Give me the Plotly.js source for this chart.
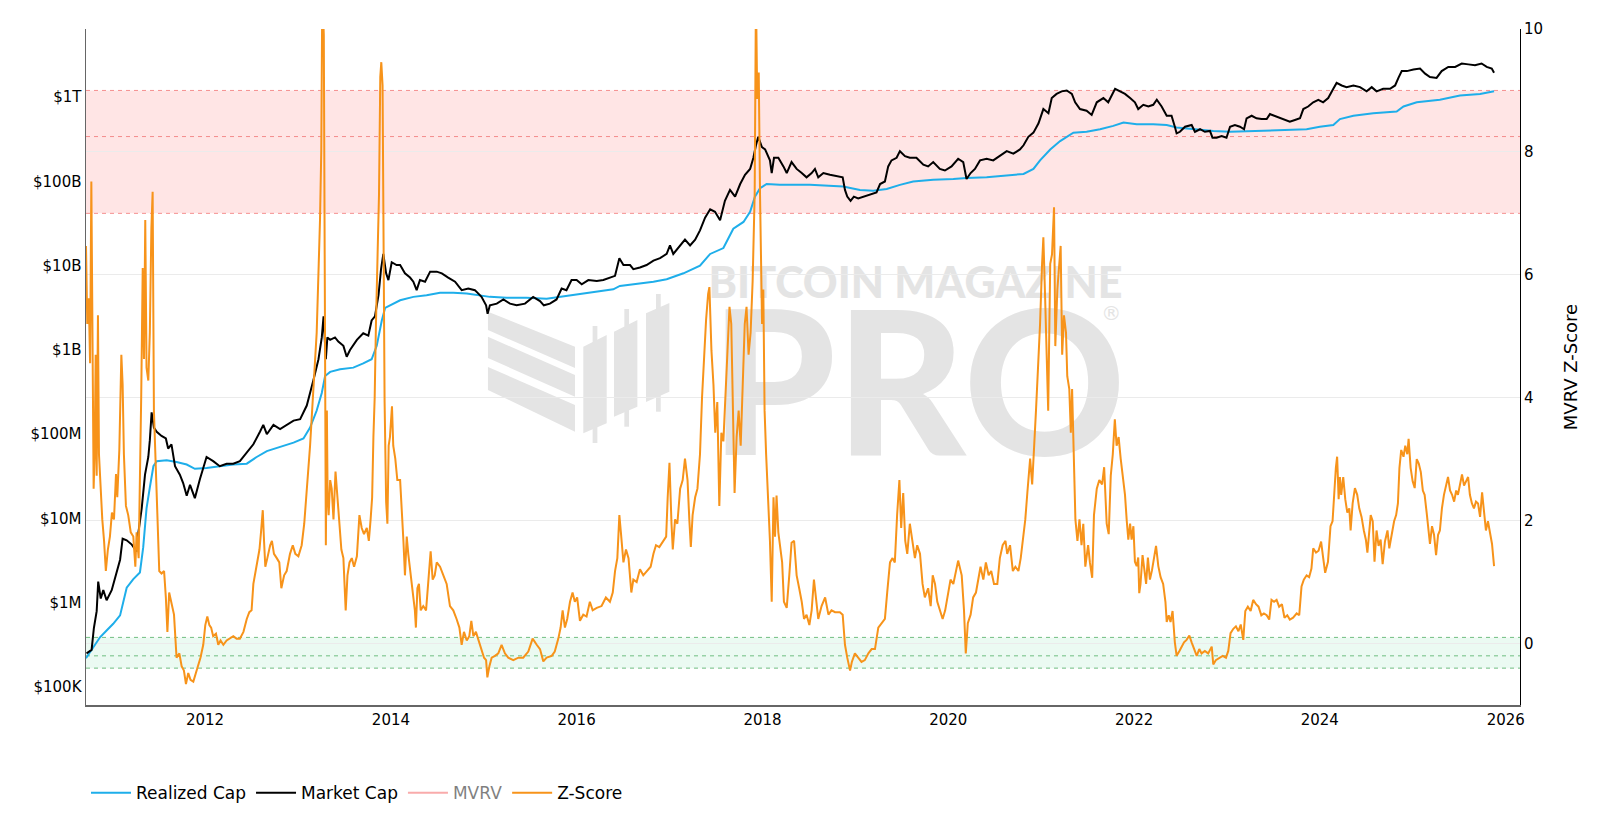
<!DOCTYPE html>
<html>
<head>
<meta charset="utf-8">
<script src="https://cdn.plot.ly/plotly-3.0.1.min.js"></script>
<style>html,body{margin:0;padding:0;background:#fff;}#chart{width:1600px;height:816px;}</style>
</head>
<body>
<div id="chart"></div>
<script>
// ---- DATA (dates as decimal years) ----
const seriesNames = ['Realized Cap', 'Market Cap', 'MVRV', 'Z-Score'];
const yTickVals = [1e5, 1e6, 1e7, 1e8, 1e9, 1e10, 1e11, 1e12];
const yTickText = ['$100K', '$1M', '$10M', '$100M', '$1B', '$10B', '$100B', '$1T'];

// Market Cap, USD billions
const mcT = [2010.726,2010.780,2010.805,2010.834,2010.852,2010.877,2010.906,2010.942,2010.995,2011.049,2011.085,2011.114,2011.157,2011.211,2011.264,2011.282,2011.318,2011.354,2011.390,2011.408,2011.426,2011.451,2011.480,2011.534,2011.580,2011.605,2011.641,2011.677,2011.731,2011.767,2011.803,2011.839,2011.892,2011.946,2012.018,2012.090,2012.161,2012.233,2012.305,2012.377,2012.449,2012.520,2012.592,2012.628,2012.664,2012.736,2012.807,2012.879,2012.951,2013.023,2013.094,2013.166,2013.220,2013.256,2013.274,2013.299,2013.317,2013.346,2013.399,2013.435,2013.489,2013.525,2013.561,2013.633,2013.704,2013.758,2013.794,2013.830,2013.866,2013.894,2013.920,2013.948,2013.973,2014.009,2014.063,
2014.099,2014.153,2014.207,2014.243,2014.278,2014.314,2014.368,2014.422,2014.494,2014.548,2014.619,2014.691,2014.763,2014.835,2014.906,2014.978,2015.025,2015.043,2015.068,2015.140,2015.211,2015.283,2015.355,2015.445,2015.534,2015.606,2015.649,2015.714,2015.785,2015.839,2015.893,2015.947,2016.001,2016.055,2016.126,2016.216,2016.288,2016.359,2016.413,2016.460,2016.503,2016.575,2016.611,2016.682,2016.754,2016.826,2016.898,2016.969,2017.005,2017.041,2017.095,2017.167,2017.221,2017.274,2017.328,2017.382,2017.436,2017.490,2017.543,2017.597,2017.651,2017.705,2017.759,2017.813,2017.866,2017.902,2017.931,2017.956,2017.992,2018.028,2018.082,
2018.100,2018.125,2018.171,2018.225,2018.261,2018.315,2018.369,2018.422,2018.476,2018.530,2018.566,2018.602,2018.656,2018.727,2018.799,2018.864,2018.889,2018.914,2018.950,2018.986,2019.032,2019.086,2019.158,2019.230,2019.266,2019.320,2019.355,2019.391,2019.445,2019.481,2019.535,2019.589,2019.660,2019.732,2019.786,2019.840,2019.912,2019.965,2020.037,2020.109,2020.163,2020.199,2020.242,2020.288,2020.342,2020.414,2020.486,2020.557,2020.629,2020.701,2020.773,2020.809,2020.862,2020.916,2020.970,2021.024,2021.078,2021.114,2021.167,2021.221,2021.275,2021.329,2021.365,2021.418,2021.490,2021.544,2021.598,2021.670,2021.723,2021.795,2021.849,
2021.903,2021.957,2022.010,2022.046,2022.100,2022.154,2022.208,2022.244,2022.297,2022.351,2022.405,2022.441,2022.459,2022.495,2022.549,2022.620,2022.656,2022.710,2022.764,2022.818,2022.846,2022.889,2022.943,2022.997,2023.033,2023.087,2023.141,2023.184,2023.212,2023.266,2023.320,2023.374,2023.428,2023.464,2023.517,2023.571,2023.625,2023.679,2023.733,2023.787,2023.822,2023.876,2023.930,2023.984,2024.038,2024.091,2024.145,2024.181,2024.235,2024.289,2024.361,2024.432,2024.504,2024.558,2024.612,2024.683,2024.755,2024.809,2024.845,2024.881,2024.935,2025.006,2025.078,2025.132,2025.186,2025.257,2025.311,2025.383,2025.455,2025.527,2025.598,2025.670,2025.742,2025.796,2025.850,2025.875];
const mcB = [0.000251,0.000275,0.000501,0.000794,0.00178,0.00112,0.00141,0.00107,0.00141,0.00229,0.00324,0.00575,0.0055,0.0049,0.00407,0.00646,0.0132,0.0331,0.0537,0.0851,0.182,0.120,0.107,0.0955,0.0891,0.0676,0.0759,0.0417,0.0331,0.0263,0.0186,0.0251,0.0174,0.0295,0.0537,0.0479,0.0417,0.0447,0.0447,0.0479,0.0603,0.0759,0.107,0.129,0.100,0.129,0.115,0.129,0.145,0.151,0.219,0.437,0.776,1.41,2.51,0.776,1.41,1.32,1.41,1.26,1.12,0.832,1.00,1.32,1.58,1.48,2.24,2.51,4.47,9.12,13.8,8.13,6.76,11.0,10.2,
10.2,8.13,7.24,6.46,5.13,6.76,6.46,8.51,8.51,8.13,7.24,6.46,5.13,5.37,5.13,4.27,3.39,2.69,3.39,3.55,3.98,3.55,3.39,3.55,4.27,3.80,3.39,3.55,3.98,5.37,5.13,6.76,6.76,6.03,6.76,6.61,6.76,7.24,7.59,12.3,10.2,10.2,9.12,9.55,10.2,11.5,12.3,13.8,17.4,13.8,16.2,20.4,17.4,20.4,26.3,37.2,46.8,43.7,34.7,58.9,79.4,66.1,93.3,120,141,191,269,339,257,240,178,
126,191,191,151,126,170,141,126,112,126,141,112,126,120,117,112,79.4,66.1,58.9,66.1,63.1,66.1,70.8,74.1,93.3,100,151,178,191,229,200,191,191,158,151,170,141,135,151,186,170,107,126,141,178,186,178,200,229,214,240,269,339,380,490,724,646,977,1096,1175,1202,1096,871,724,692,617,871,977,871,1259,1175,
1096,977,871,724,813,776,813,933,776,603,603,447,372,389,447,468,389,417,389,398,331,331,347,331,447,468,447,417,562,603,562,550,550,631,603,575,537,513,537,562,724,776,871,933,871,977,1259,1479,1380,1318,1380,1318,1175,1318,1175,1259,1259,1380,1698,2042,2042,2138,2188,1905,1738,1698,2042,2291,2291,2512,2455,2399,2512,2291,2188,1950];

// Realized Cap, USD billions
const rcT = [2010.719,2010.798,2010.870,2010.942,2011.013,2011.085,2011.157,2011.229,2011.300,2011.336,2011.372,2011.408,2011.444,2011.480,2011.587,2011.695,2011.803,2011.892,2012.018,2012.161,2012.305,2012.449,2012.556,2012.664,2012.807,2012.951,2013.058,2013.130,2013.202,2013.256,2013.292,2013.346,2013.453,2013.597,2013.704,2013.794,2013.848,2013.902,2013.938,2013.991,2014.099,
2014.243,2014.386,2014.530,2014.673,2014.817,2014.960,2015.068,2015.247,2015.462,2015.678,2015.821,2015.965,2016.180,2016.395,2016.467,2016.611,2016.826,2016.969,2017.149,2017.328,2017.436,2017.579,2017.687,2017.795,2017.866,2017.920,2017.974,2018.046,
2018.189,2018.512,2018.692,2018.871,2019.050,2019.194,2019.337,2019.481,2019.624,2019.840,2020.055,2020.199,2020.414,2020.629,2020.809,2020.916,2020.988,2021.096,2021.203,2021.347,2021.490,2021.634,2021.777,2021.885,
2022.028,2022.208,2022.351,2022.459,2022.638,2022.854,2023.033,2023.284,2023.571,2023.858,2024.002,2024.145,2024.217,2024.361,2024.576,2024.827,2024.899,2025.042,2025.293,2025.509,2025.724,2025.875];
const rcB = [0.000219,0.000295,0.000389,0.000468,0.000562,0.000708,0.00151,0.00191,0.00229,0.00457,0.0132,0.0234,0.0417,0.0479,0.0490,0.0468,0.0437,0.0389,0.0398,0.0417,0.0437,0.0447,0.0537,0.0631,0.0708,0.0794,0.0891,0.120,0.191,0.309,0.490,0.550,0.589,0.617,0.692,0.776,1.12,2.24,3.16,3.39,3.89,
4.27,4.47,4.79,4.79,4.68,4.47,4.27,4.17,4.17,4.07,4.27,4.57,4.90,5.25,5.75,6.03,6.46,6.92,8.13,10.0,13.8,16.2,27.5,33.1,43.7,66.1,83.2,93.3,
91.2,91.2,89.1,87.1,79.4,77.6,81.3,91.2,100,105,107,110,112,117,123,141,178,240,302,380,389,417,457,501,
479,479,468,437,417,398,389,398,407,417,447,468,550,603,646,676,776,871,933,1047,1096,1175];

// MVRV (hidden in the reference: legend only), a few readings
const mvrvT = [2010.72, 2011.44, 2011.90, 2012.50, 2013.27, 2013.92, 2015.04, 2016.50, 2017.96, 2018.95, 2021.27, 2022.85, 2024.19, 2025.88];
const mvrvV = [1.15, 4.4, 0.45, 1.1, 5.1, 4.1, 0.65, 1.9, 4.0, 0.75, 3.1, 0.83, 3.2, 1.66];

// MVRV Z-Score
const zT = [2010.719,2010.733,2010.748,2010.762,2010.776,2010.787,2010.802,2010.812,2010.823,2010.834,2010.848,2010.859,2010.877,2010.895,2010.913,2010.934,2010.956,2010.977,2010.999,2011.020,2011.042,2011.056,2011.078,2011.099,2011.114,2011.128,2011.150,2011.175,2011.200,2011.229,2011.250,2011.264,2011.286,2011.300,2011.315,2011.329,2011.343,2011.358,2011.372,2011.390,2011.408,2011.422,2011.437,2011.451,2011.465,2011.487,2011.508,2011.534,2011.559,2011.580,2011.595,2011.616,2011.641,2011.666,2011.695,2011.724,2011.749,2011.774,2011.795,2011.821,2011.846,2011.874,2011.903,2011.928,2011.953,2011.982,2012.004,2012.025,2012.047,2012.068,2012.090,2012.118,2012.144,2012.169,2012.197,2012.233,2012.269,2012.305,2012.341,2012.377,2012.413,2012.449,2012.477,2012.502,2012.520,2012.542,2012.563,2012.585,2012.603,2012.621,2012.635,2012.649,2012.671,2012.700,2012.721,2012.743,2012.771,2012.800,2012.822,2012.850,2012.879,2012.915,2012.944,2012.972,2013.005,2013.041,2013.066,2013.094,2013.130,2013.166,2013.202,2013.224,2013.238,2013.252,2013.263,2013.277,2013.288,2013.299,2013.310,2013.320,2013.331,2013.346,2013.363,2013.381,2013.403,2013.424,2013.446,2013.467,2013.489,2013.503,2013.514,2013.532,2013.554,2013.579,2013.604,2013.633,2013.661,2013.686,2013.711,2013.740,2013.762,2013.783,2013.798,2013.812,2013.826,2013.841,2013.855,2013.873,2013.887,2013.898,2013.912,2013.923,2013.934,2013.948,2013.963,2013.977,2013.991,2014.013,2014.027,2014.049,2014.070,
2014.099,2014.117,2014.135,2014.153,2014.171,2014.189,2014.207,2014.225,2014.243,2014.260,2014.271,2014.286,2014.304,2014.321,2014.350,2014.379,2014.404,2014.429,2014.451,2014.472,2014.494,2014.530,2014.565,2014.601,2014.637,2014.673,2014.709,2014.738,2014.763,2014.788,2014.817,2014.845,2014.867,2014.888,2014.917,2014.946,2014.978,2015.003,2015.025,2015.039,2015.061,2015.086,2015.122,2015.157,2015.193,2015.229,2015.265,2015.319,2015.373,2015.427,2015.480,2015.527,2015.570,2015.606,2015.642,2015.678,2015.732,2015.767,2015.803,2015.828,2015.850,2015.875,2015.900,2015.929,2015.958,2015.983,2016.008,2016.037,2016.072,2016.108,2016.144,2016.173,2016.216,2016.270,2016.316,2016.359,2016.388,2016.413,2016.438,2016.460,2016.478,2016.503,2016.532,2016.560,2016.589,2016.611,2016.647,2016.682,2016.718,2016.761,2016.797,2016.826,2016.855,2016.890,2016.933,2016.962,2016.980,2016.998,2017.020,2017.034,2017.059,2017.084,2017.113,2017.142,2017.167,2017.192,2017.213,2017.228,2017.249,2017.274,2017.299,2017.328,2017.350,2017.371,2017.393,2017.414,2017.429,2017.450,2017.472,2017.493,2017.515,2017.536,2017.558,2017.579,2017.601,2017.622,2017.644,2017.665,2017.687,2017.701,2017.723,2017.744,2017.766,2017.787,2017.809,2017.830,2017.852,2017.873,2017.895,2017.917,2017.931,2017.945,2017.960,2017.974,
2017.996,2018.010,2018.024,2018.039,2018.053,2018.067,2018.082,2018.100,2018.118,2018.135,2018.153,2018.171,2018.189,2018.211,2018.232,2018.261,2018.290,2018.315,2018.340,2018.369,2018.397,2018.422,2018.448,2018.476,2018.505,2018.530,2018.555,2018.577,2018.602,2018.638,2018.674,2018.710,2018.745,2018.781,2018.835,2018.864,2018.889,2018.914,2018.943,2018.964,2018.997,2019.032,2019.068,2019.104,2019.140,2019.176,2019.212,2019.248,2019.284,2019.320,2019.345,2019.373,2019.402,2019.427,2019.452,2019.474,2019.495,2019.517,2019.538,2019.560,2019.589,2019.617,2019.642,2019.667,2019.696,2019.725,2019.750,2019.786,2019.811,2019.833,2019.858,2019.883,2019.912,2019.940,2019.969,2020.001,2020.026,2020.055,2020.084,2020.109,2020.145,2020.170,2020.191,2020.213,2020.242,2020.270,2020.299,2020.324,2020.349,2020.378,2020.407,2020.435,2020.464,2020.493,2020.529,2020.557,2020.586,2020.615,2020.636,2020.665,2020.694,2020.722,2020.755,2020.780,2020.809,2020.830,2020.852,2020.880,2020.902,2020.923,2020.945,2020.966,2020.988,2021.010,2021.024,2021.042,2021.060,2021.074,2021.096,2021.117,2021.138,2021.153,2021.174,2021.196,2021.210,2021.225,2021.246,2021.268,2021.282,2021.304,2021.318,2021.332,2021.347,2021.368,2021.390,2021.411,2021.433,2021.454,2021.476,2021.505,2021.526,2021.548,2021.569,2021.598,2021.627,2021.655,2021.677,2021.706,2021.727,2021.748,2021.770,2021.792,2021.813,2021.835,2021.856,
2021.885,2021.903,2021.921,2021.939,2021.957,2021.975,2021.993,2022.010,2022.028,2022.046,2022.057,2022.071,2022.093,2022.107,2022.129,2022.150,2022.172,2022.193,2022.215,2022.236,2022.262,2022.287,2022.315,2022.337,2022.351,2022.373,2022.394,2022.416,2022.441,2022.459,2022.488,2022.513,2022.538,2022.567,2022.595,2022.620,2022.646,2022.674,2022.703,2022.728,2022.764,2022.800,2022.836,2022.854,2022.882,2022.918,2022.954,2022.990,2023.015,2023.040,2023.069,2023.098,2023.126,2023.148,2023.177,2023.198,2023.227,2023.255,2023.284,2023.313,2023.342,2023.370,2023.399,2023.428,2023.456,2023.481,2023.507,2023.535,2023.564,2023.593,2023.621,2023.650,2023.679,2023.715,2023.751,2023.779,2023.804,2023.830,2023.858,2023.887,2023.912,2023.930,2023.959,2023.987,2024.016,2024.038,2024.059,2024.088,2024.117,2024.138,2024.160,2024.174,2024.188,2024.203,2024.217,2024.231,2024.253,2024.275,2024.296,2024.317,2024.332,2024.353,2024.379,2024.404,2024.425,2024.450,2024.475,2024.497,2024.511,2024.533,2024.547,2024.569,2024.590,2024.612,2024.633,2024.655,2024.676,2024.701,2024.727,2024.748,2024.773,2024.798,2024.820,2024.841,2024.856,2024.877,2024.899,2024.920,2024.942,2024.956,2024.978,2024.999,2025.021,2025.042,2025.064,2025.085,2025.107,2025.128,2025.150,2025.171,2025.186,2025.207,2025.229,2025.250,2025.272,2025.293,2025.315,2025.336,2025.358,2025.380,2025.401,2025.423,2025.444,2025.466,2025.487,2025.509,2025.530,2025.552,2025.573,2025.595,2025.616,2025.638,2025.659,2025.681,2025.702,2025.724,2025.746,2025.767,2025.789,2025.810,2025.832,2025.853,2025.875];
const zV = [6.47,5.2,5.62,4.56,7.52,4.77,2.52,3.08,4.70,2.73,5.34,3.08,2.38,2.02,1.67,1.18,1.53,1.74,2.13,2.02,2.76,2.38,3.15,4.70,4.21,3.08,2.24,2.09,1.81,1.74,1.25,1.81,1.39,2.52,4.0,6.11,4.63,6.89,4.49,4.28,5.06,6.75,7.35,3.79,3.08,2.02,1.18,1.14,1.18,0.75,0.19,0.83,0.68,0.47,-0.23,-0.16,-0.37,-0.44,-0.66,-0.48,-0.59,-0.62,-0.48,-0.37,-0.23,-0.02,0.30,0.44,0.30,0.26,0.12,0.16,-0.02,0.05,-0.02,0.05,0.08,0.12,0.08,0.08,0.19,0.40,0.51,0.54,0.97,1.18,1.32,1.53,1.81,2.17,1.67,1.25,1.39,1.60,1.67,1.46,1.39,1.32,0.90,1.11,1.18,1.46,1.60,1.46,1.42,1.60,1.95,2.52,3.22,4.14,5.06,6.18,6.89,8.02,10.6,9.9,6.61,1.60,3.79,2.38,2.09,2.66,2.52,2.02,2.80,2.38,1.95,1.53,1.39,0.97,0.54,1.11,1.32,1.39,1.25,1.42,2.09,1.88,1.78,1.88,1.67,2.02,2.38,3.36,4.0,5.2,6.11,7.31,9.22,9.46,9.08,6.61,3.93,2.31,1.95,3.22,3.36,3.86,3.22,3.01,2.66,
2.66,2.24,1.67,1.11,1.74,1.46,1.18,0.97,0.75,0.54,0.26,0.90,0.97,0.54,0.61,0.54,1.11,1.50,1.04,1.11,1.32,1.25,1.11,0.97,0.61,0.54,0.40,0.26,-0.02,0.19,0.05,0.12,0.37,0.12,0.19,0.05,-0.09,-0.23,-0.27,-0.55,-0.37,-0.23,-0.20,-0.16,-0.02,-0.16,-0.23,-0.27,-0.23,-0.23,-0.13,0.08,-0.02,-0.09,-0.29,-0.23,-0.20,-0.13,0.08,0.26,0.54,0.26,0.40,0.68,0.83,0.68,0.75,0.37,0.47,0.44,0.68,0.54,0.58,0.61,0.75,0.68,0.83,1.18,1.39,2.09,1.81,1.32,1.53,1.39,0.83,1.04,1.00,1.21,1.11,1.18,1.25,1.46,1.60,1.57,1.67,1.74,2.38,2.94,1.95,1.53,2.02,1.95,2.52,2.66,3.01,2.66,2.02,1.57,2.09,2.38,2.52,3.08,4.0,4.77,5.27,5.69,5.80,4.77,4.21,3.43,3.93,2.24,3.43,3.29,4.0,4.77,5.48,5.20,3.79,2.45,3.36,3.79,3.22,4.28,5.20,5.48,4.70,5.06,5.90,7.31,10.6,8.86,9.29,7.31,
5.20,5.76,3.79,3.08,2.66,2.02,1.67,0.68,2.38,1.74,2.41,1.81,1.60,1.32,0.68,0.58,1.11,1.64,1.67,1.11,0.90,0.68,0.40,0.47,0.30,0.54,1.04,0.68,0.40,0.61,0.75,0.47,0.54,0.51,0.51,0.47,-0.02,-0.23,-0.44,-0.30,-0.16,-0.23,-0.30,-0.27,-0.16,-0.09,-0.09,0.26,0.33,0.40,0.83,1.32,1.39,1.32,2.09,2.66,1.88,2.45,1.67,1.46,1.95,1.67,1.39,1.60,1.46,0.97,0.75,0.90,0.61,1.11,0.97,0.68,0.54,0.40,0.54,0.83,1.04,0.97,1.18,1.35,1.11,0.54,-0.16,0.33,0.47,0.75,0.83,1.04,1.25,1.04,1.32,1.11,1.18,0.97,0.97,1.39,1.60,1.67,1.46,1.60,1.18,1.25,1.18,1.39,1.74,2.02,2.45,3.01,2.59,3.08,3.79,4.49,5.20,6.18,6.61,5.62,4.49,3.79,6.18,6.33,7.10,4.84,5.76,6.18,6.47,4.70,5.34,5.06,4.35,4.14,3.43,4.14,3.36,2.02,1.67,2.02,1.60,1.95,1.25,1.60,1.32,1.07,2.09,2.52,2.66,2.59,2.87,1.95,1.78,2.73,3.08,3.65,3.22,3.36,3.01,
2.57,2.42,1.99,1.69,1.95,1.69,1.91,1.33,1.26,1.40,0.82,0.97,1.44,1.19,0.97,1.40,1.04,1.19,1.40,1.59,1.26,1.08,0.97,0.68,0.35,0.46,0.35,0.53,0.02,-0.20,-0.12,-0.05,0.02,0.06,0.13,0.02,-0.09,-0.20,-0.09,-0.16,-0.12,-0.16,-0.05,-0.34,-0.27,-0.23,-0.20,-0.23,-0.12,0.17,0.24,0.28,0.20,0.31,0.06,0.53,0.60,0.53,0.71,0.64,0.60,0.46,0.49,0.46,0.39,0.71,0.68,0.71,0.60,0.64,0.42,0.46,0.39,0.42,0.49,0.46,0.93,1.04,1.11,1.08,1.22,1.55,1.48,1.51,1.66,1.40,1.15,1.33,1.91,1.99,2.64,2.86,3.04,2.35,2.71,2.42,2.71,2.35,2.13,2.20,1.84,2.28,2.53,2.42,2.20,2.06,1.84,1.69,1.48,1.84,2.09,1.99,1.33,1.84,1.59,1.69,1.29,1.66,1.84,1.55,1.77,1.99,2.09,2.28,2.86,3.15,3.04,3.22,3.08,3.33,2.86,2.64,2.53,3.00,2.93,2.79,2.49,2.42,2.13,1.84,1.62,1.91,1.77,1.44,1.77,1.84,2.20,2.42,2.57,2.71,2.49,2.42,2.31,2.49,2.42,2.57,2.75,2.57,2.64,2.71,2.42,2.28,2.20,2.31,2.28,2.06,2.46,2.20,1.84,1.99,1.77,1.62,1.26];

// ---- helpers ----
function toISO(t) {
  const y = Math.floor(t);
  const s = Date.UTC(y, 0, 1), e = Date.UTC(y + 1, 0, 1);
  return new Date(s + (t - y) * (e - s)).toISOString().slice(0, 10);
}
const B = 1e9;

const traces = [
  { name: seriesNames[0], type: 'scatter', mode: 'lines',
    x: rcT.map(toISO), y: rcB.map(v => v * B),
    line: { color: '#1eaeea', width: 2 }, yaxis: 'y' },
  { name: seriesNames[1], type: 'scatter', mode: 'lines',
    x: mcT.map(toISO), y: mcB.map(v => v * B),
    line: { color: '#000000', width: 2 }, yaxis: 'y' },
  { name: seriesNames[2], type: 'scatter', mode: 'lines',
    x: mvrvT.map(toISO), y: mvrvV, visible: 'legendonly',
    line: { color: '#f45a5a', width: 2 }, yaxis: 'y2' },
  { name: seriesNames[3], type: 'scatter', mode: 'lines',
    x: zT.map(toISO), y: zV,
    line: { color: '#f7931a', width: 2 }, yaxis: 'y2' }
];

function hline(y, color) {
  return { type: 'line', xref: 'paper', x0: 0, x1: 1, yref: 'y2', y0: y, y1: y,
           line: { color: color, width: 1, dash: '4px,4px' }, layer: 'below' };
}
const wm = '#e4e4e4';
function wmRect(x0, x1, y0, y1) {
  return { type: 'rect', xref: 'paper', yref: 'paper', x0, x1, y0, y1,
           fillcolor: wm, line: { width: 0 }, layer: 'below' };
}
function wmPath(path) {
  return { type: 'path', xref: 'paper', yref: 'paper', path,
           fillcolor: wm, line: { width: 0 }, layer: 'below' };
}

const shapes = [
  { type: 'rect', xref: 'paper', x0: 0, x1: 1, yref: 'y2', y0: 7, y1: 9,
    fillcolor: 'rgba(255,0,0,0.1)', line: { width: 0 }, layer: 'below' },
  hline(9, 'rgba(240,110,110,0.75)'), hline(8.25, 'rgba(240,110,110,0.75)'), hline(7, 'rgba(240,110,110,0.75)'),
  { type: 'rect', xref: 'paper', x0: 0, x1: 1, yref: 'y2', y0: -0.4, y1: 0.1,
    fillcolor: 'rgba(0,190,90,0.08)', line: { width: 0 }, layer: 'below' },
  hline(0.1, 'rgba(70,170,90,0.75)'), hline(-0.2, 'rgba(70,170,90,0.75)'), hline(-0.4, 'rgba(70,170,90,0.75)'),
  // watermark logo: three slanted stripes and three candles
  wmPath('M0.2803,0.5818 L0.3410,0.5300 L0.3410,0.4985 L0.2803,0.5547 Z'),
  wmPath('M0.2803,0.5448 L0.3410,0.4882 L0.3410,0.4561 L0.2803,0.5133 Z'),
  wmPath('M0.2803,0.5000 L0.3410,0.4438 L0.3410,0.4043 L0.2803,0.4660 Z'),
  wmPath('M0.3468,0.5300 L0.3631,0.5473 L0.3631,0.4167 L0.3468,0.4019 Z'),
  wmPath('M0.3682,0.5522 L0.3845,0.5695 L0.3845,0.4413 L0.3682,0.4265 Z'),
  wmPath('M0.3905,0.5794 L0.4068,0.5947 L0.4068,0.4635 L0.3905,0.4482 Z'),
  wmRect(0.3533, 0.3566, 0.3876, 0.5607),
  wmRect(0.3754, 0.3787, 0.4117, 0.5858),
  wmRect(0.3975, 0.4008, 0.4339, 0.6080),
  // watermark text
  { type: 'rect', xref: 'paper', yref: 'paper', x0: 0.4365, x1: 0.7204, y0: 0.605, y1: 0.652,
    fillcolor: 'rgba(0,0,0,0)', line: { width: 0 }, layer: 'below',
    label: { text: 'BITCOIN MAGAZINE', textposition: 'middle center',
             font: { family: 'Lato, Open Sans, sans-serif', size: 43, color: wm, weight: 900 } } },
  { type: 'rect', xref: 'paper', yref: 'paper', x0: 0.4386, x1: 0.7218, y0: 0.377, y1: 0.598,
    fillcolor: 'rgba(0,0,0,0)', line: { width: 0 }, layer: 'below',
    label: { text: 'PRO', textposition: 'middle center',
             font: { family: 'Lato, Open Sans, sans-serif', size: 200, color: wm, weight: 900 } } },
  { type: 'rect', xref: 'paper', yref: 'paper', x0: 0.705, x1: 0.725, y0: 0.565, y1: 0.597,
    fillcolor: 'rgba(0,0,0,0)', line: { width: 0 }, layer: 'below',
    label: { text: '®', textposition: 'middle center',
             font: { family: 'DejaVu Sans, sans-serif', size: 20, color: wm } } }
];

const layout = {
  width: 1600, height: 816,
  margin: { l: 86, r: 80, t: 29, b: 111, pad: 0 },
  paper_bgcolor: '#ffffff', plot_bgcolor: '#ffffff',
  font: { family: 'DejaVu Sans, Verdana, sans-serif', size: 15, color: '#000' },
  showlegend: true,
  xaxis: {
    type: 'date', range: [toISO(2010.719), toISO(2026.155)],
    tick0: '2012-01-01', dtick: 'M24', tickformat: '%Y',
    showgrid: false, zeroline: false, showline: true, linecolor: '#666', linewidth: 2,
    ticks: '', tickfont: { size: 15, color: '#000' }
  },
  yaxis: {
    type: 'log', range: [4.786, 12.81],
    tickvals: yTickVals, ticktext: yTickText,
    showgrid: false, zeroline: false, showline: true, linecolor: '#666', linewidth: 1.5,
    ticks: '', tickfont: { size: 15, color: '#000' }
  },
  yaxis2: {
    overlaying: 'y', side: 'right', range: [-1, 10], tick0: 0, dtick: 2,
    showgrid: true, gridcolor: '#ebebeb', gridwidth: 1, zeroline: false,
    showline: true, linecolor: '#000', linewidth: 1, ticks: '',
    tickfont: { size: 15, color: '#000' },
    title: { text: 'MVRV Z-Score', font: { size: 18, color: '#000' }, standoff: 22 }
  },
  legend: { orientation: 'h', xref: 'paper', x: 0, xanchor: 'left',
            yref: 'container', y: 0.028, yanchor: 'middle',
            itemwidth: 40, font: { size: 17, color: '#000' }, bgcolor: 'rgba(0,0,0,0)' },
  shapes: shapes,
  hovermode: false
};

Plotly.newPlot('chart', traces, layout, { staticPlot: true, displayModeBar: false });
</script>
</body>
</html>
